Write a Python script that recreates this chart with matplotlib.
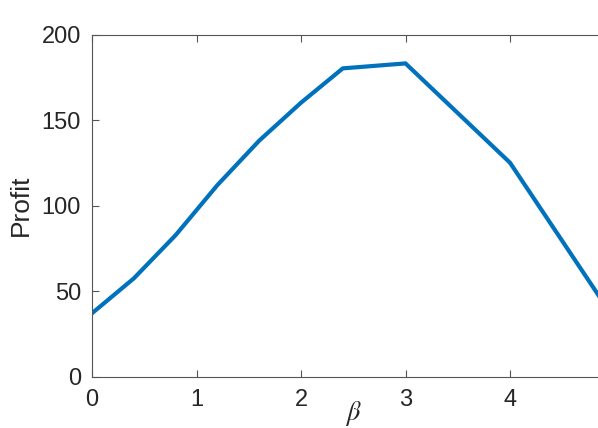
import numpy as np
import matplotlib
matplotlib.use('Agg')
import matplotlib.pyplot as plt

plt.rcParams['font.family'] = ['Liberation Sans', 'DejaVu Sans']
plt.rcParams['mathtext.fontset'] = 'stix'

# valores
beta = [0, 0.4, 0.8, 1.2, 1.6, 2.0, 2.4, 3.0, 4.0, 5.0]
lucro = [37, 57.4, 82.7, 112, 138, 160.2, 180.3, 183.2, 125.1, 33.5]

xticks = [0, 1, 2, 3, 4]
yticks = [0, 50, 100, 150, 200]

fig = plt.figure(figsize=(5.98, 4.28), dpi=100)
# eixo passa da borda direita da figura (como no original)
ax = fig.add_axes([92 / 598, 1 - 376.5 / 428, 522.5 / 598, 341.8 / 428])

ax.plot(beta, lucro, color='#0072BD', linewidth=3, solid_joinstyle='miter')

ax.set_xlim(0, 5)
ax.set_ylim(0, 200)
ax.set_xticks(xticks)
ax.set_yticks(yticks)

for s in ax.spines.values():
    s.set_color('#555555')
    s.set_linewidth(0.8)

ax.tick_params(direction='in', length=5, width=0.8, color='#555555',
               labelsize=17, labelcolor='#262626', top=True, right=True)
ax.tick_params(axis='x', pad=9)
ax.tick_params(axis='y', pad=8)

ax.set_xlabel(r'$\beta$', fontsize=19, color='#262626', labelpad=-9)
ax.set_ylabel('Profit', fontsize=19, color='#262626', labelpad=6)

fig.savefig('out.png', dpi=100)
